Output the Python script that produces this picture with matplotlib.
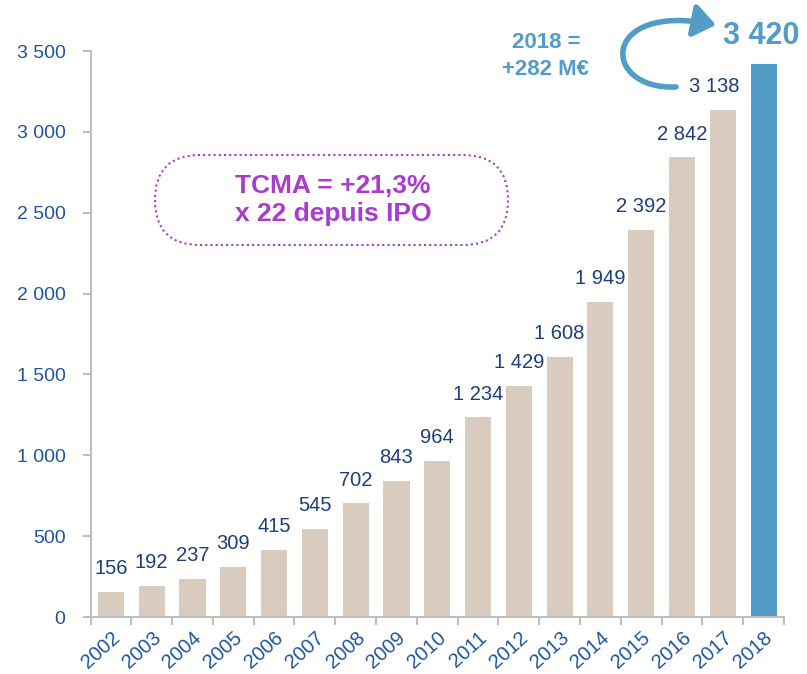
import matplotlib.pyplot as plt
from matplotlib.patches import FancyBboxPatch, FancyArrowPatch
from matplotlib.path import Path
from matplotlib.transforms import IdentityTransform

years = [str(y) for y in range(2002, 2019)]
values = [156, 192, 237, 309, 415, 545, 702, 843, 964, 1234, 1429,
          1608, 1949, 2392, 2842, 3138, 3420]
yticks = [0, 500, 1000, 1500, 2000, 2500, 3000, 3500]

beige = "#D9CCBF"
blue = "#529DC8"
navy = "#1B3F7A"
tick_blue = "#1F55A0"
purple = "#A93BD0"

def fmt(v):
    return f"{v:,}".replace(",", " ")

plt.rcParams['font.family'] = ['Liberation Sans', 'DejaVu Sans']
W, H = 807, 674
fig = plt.figure(figsize=(W / 100, H / 100), dpi=100)
ax = fig.add_axes([90.5 / W, 1 - 617 / H, (784 - 90.5) / W, (617 - 51) / H])

x = list(range(len(years)))
colors = [beige] * (len(years) - 1) + [blue]
ax.bar(x, values, width=0.64, color=colors)

for i, v in enumerate(values[:-1]):
    dx = -0.22 if i == len(values) - 2 else 0
    ax.text(i + dx, v + 85, fmt(v), ha='center', va='bottom', fontsize=14.5,
            color=navy)
ax.text(len(years) - 1 - 0.07, values[-1] + 80, fmt(values[-1]), ha='center',
        va='bottom', fontsize=22, color=blue, fontweight='bold')

ax.set_xlim(-0.5, len(years) - 0.5)
ax.set_ylim(0, 3500)
ax.set_yticks(yticks)
ax.set_yticklabels([fmt(t) for t in yticks], fontsize=14, color=tick_blue)
ax.set_xticks(x)
ax.set_xticklabels(years, rotation=42, ha='right', rotation_mode='anchor',
                   fontsize=14.5, color=tick_blue)
ax.tick_params(axis='x', length=0, pad=8)
ax.set_xticks([i - 0.5 for i in range(len(years) + 1)], minor=True)
ax.tick_params(axis='x', which='minor', length=6, color='#BFBFBF', width=1.5)
ax.tick_params(axis='y', length=6, color='#BFBFBF', width=1.5, pad=12)
for s in ['top', 'right']:
    ax.spines[s].set_visible(False)
for s in ['left', 'bottom']:
    ax.spines[s].set_color('#BFBFBF')
    ax.spines[s].set_linewidth(1.5)

# dotted rounded box with text (pixel coordinates)
box = FancyBboxPatch((155, H - 245), 353, 90,
                     boxstyle="round,pad=0,rounding_size=45",
                     transform=IdentityTransform(), fill=False,
                     edgecolor=purple, linestyle=(0, (1, 1.5)), linewidth=1.5)
fig.add_artist(box)
fig.text(333 / W, 1 - 200 / H, "TCMA = +21,3%\nx 22 depuis IPO",
         ha='center', va='center', fontsize=19, fontweight='bold',
         color=purple, linespacing=1.25)

fig.text(546 / W, 1 - 56 / H, "2018 =\n+282 M€", ha='center', va='center',
         fontsize=16, fontweight='bold', color=blue, linespacing=1.4)

verts = [(676, H - 87), (600, H - 90), (600, H - 2), (716, H - 25)]
path = Path(verts, [Path.MOVETO, Path.CURVE4, Path.CURVE4, Path.CURVE4])
arrow = FancyArrowPatch(path=path, arrowstyle='-|>,head_length=0.6,head_width=0.45',
                        mutation_scale=22, color=blue, linewidth=4,
                        transform=IdentityTransform())
fig.add_artist(arrow)

fig.savefig("out.png", dpi=100)
